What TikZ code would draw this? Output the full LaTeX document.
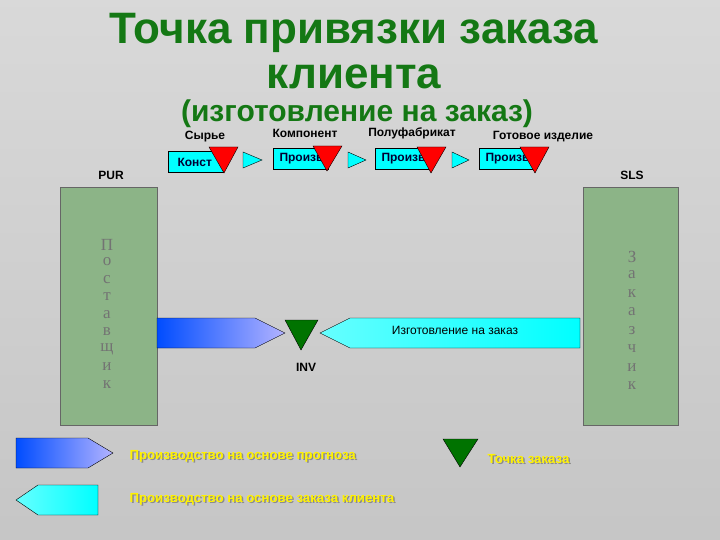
\documentclass[tikz,border=0pt]{standalone}
\usepackage{fontspec}
\setmainfont{Liberation Sans}
\newfontfamily\serifru{Liberation Serif}
\definecolor{aqua}{RGB}{0,255,255}
\definecolor{gfill}{RGB}{140,180,135}
\definecolor{tgreen}{RGB}{20,120,20}
\begin{document}
\begin{tikzpicture}[x=1pt,y=-1pt,
  lbl/.style={font=\bfseries\fontsize{12}{12}\selectfont, text=black},
  cbox/.style={draw=black, fill=aqua, inner sep=0pt, minimum width=55pt, minimum height=21pt, anchor=north west},
  btxt/.style={font=\bfseries\fontsize{12}{12}\selectfont, text=black!80!blue},
  redtri/.style={draw=black, fill=red},
  greentri/.style={draw=black, fill=green!45!black},
  chev/.style={draw=black, fill=aqua},
  gbar/.style={draw=black!60, fill=gfill},
  vlet/.style={font=\serifru\fontsize{17}{17}\selectfont, text=black!55, inner sep=0pt},
  ytxt/.style={font=\bfseries\fontsize{13.2}{13}\selectfont, text=yellow, anchor=west},
  ysh/.style={font=\bfseries\fontsize{13.2}{13}\selectfont, text=black!45, anchor=west},
  title/.style={font=\bfseries\fontsize{44}{44}\selectfont, text=tgreen}
]
\useasboundingbox (0,0) rectangle (720,540);
\shade[top color=gray!30, bottom color=gray!45] (0,0) rectangle (720,540);
% title
\node[title] (t1) at (354,33) {Точка привязки заказа};
\node[title] (t2) at (354,77) {клиента};
\node[font=\bfseries\fontsize{30}{30}\selectfont, text=tgreen] (t3) at (357,114) {(изготовление на заказ)};
% stage labels
\node[lbl] (l1) at (205,137) {Сырье};
\node[lbl] (l2) at (305,133) {Компонент};
\node[lbl] (l3) at (412,133) {Полуфабрикат};
\node[lbl] (l4) at (543,137) {Готовое изделие};
% boxes
\node[cbox] (b1) at (168,151) {};
\node[btxt, anchor=west] at (174,162) {Конст};
\node[cbox] (b2) at (273,148) {};
\node[btxt, anchor=west] at (276,159) {Произв};
\node[cbox] (b3) at (375,148) {};
\node[btxt, anchor=west] at (378,159) {Произв};
\node[cbox] (b4) at (479,148) {};
\node[btxt, anchor=west] at (482,159) {Произв};
\draw[redtri] (209,147) -- (238,147) -- (224,173) -- cycle;
\draw[redtri] (313,146) -- (342,146) -- (327,171) -- cycle;
\draw[redtri] (417,147) -- (446,147) -- (431,173) -- cycle;
\draw[redtri] (520,147) -- (549,147) -- (535,173) -- cycle;
\draw[chev] (243,152) -- (262,160) -- (243,168) -- cycle;
\draw[chev] (348,152) -- (366,160) -- (348,168) -- cycle;
\draw[chev] (452,152) -- (469,160) -- (452,168) -- cycle;
% PUR / SLS
\node[lbl] (pur) at (111,175) {PUR};
\node[lbl] (sls) at (632,175) {SLS};
% bars
\draw[gbar] (60,187) rectangle (157,425);
\draw[gbar] (583,187) rectangle (678,425);
\foreach \c [count=\i] in {П,о,с,т,а,в,щ,и,к} {
  \node[vlet] at (107,227+\i*17.5) {\c};
}
\foreach \c [count=\i] in {З,а,к,а,з,ч,и,к} {
  \node[vlet] at (632,238+\i*18.5) {\c};
}
% middle arrows
\shade[left color=blue!70!cyan, right color=blue!30!white, draw=black] (157,318) -- (255,318) -- (285,333) -- (255,348) -- (157,348) -- cycle;
\shade[left color=aqua!60!white, right color=aqua, draw=black] (580,318) -- (350,318) -- (320,333) -- (350,348) -- (580,348) -- cycle;
\node[font=\fontsize{12}{12}\selectfont] (izg) at (455,330) {Изготовление на заказ};
\draw[greentri] (285,320) -- (318,320) -- (301,350) -- cycle;
\node[lbl] (inv) at (306,367) {INV};
% legend
\shade[left color=blue!70!cyan, right color=blue!30!white, draw=black] (16,438) -- (88,438) -- (113,453) -- (88,468) -- (16,468) -- cycle;
\node[ysh] at (127.5,457.5) {Производство на основе прогноза};
\node[ytxt] (lg1) at (126,456) {Производство на основе прогноза};
\shade[left color=aqua!60!white, right color=aqua, draw=black] (98,485) -- (38,485) -- (16,500) -- (38,515) -- (98,515) -- cycle;
\node[ysh] at (127.5,500.5) {Производство на основе заказа клиента};
\node[ytxt] (lg2) at (126,499) {Производство на основе заказа клиента};
\draw[greentri] (443,439) -- (478,439) -- (460,467) -- cycle;
\node[ysh] at (485.5,460.5) {Точка заказа};
\node[ytxt] (lg3) at (484,459) {Точка заказа};
\end{tikzpicture}
\end{document}
